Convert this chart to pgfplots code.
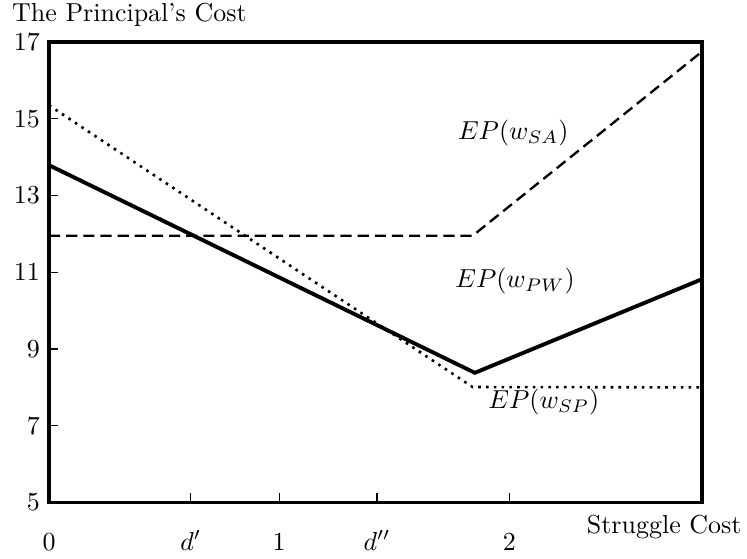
\documentclass[border=0pt]{standalone}
\usepackage{pgfplots}
\pgfplotsset{compat=1.18}
\begin{document}
\begin{tikzpicture}
\path[use as bounding box] (-18.87pt,-21.37pt) rectangle (268.7pt,193.46pt);
\begin{axis}[
  at={(0,0)}, anchor=south west,
  scale only axis, width=251.4pt, height=177.3pt,
  xmin=0, xmax=2.837, ymin=5, ymax=17,
  xtick={0,0.616,1,1.425,2},
  xticklabels={$0$,$d'$,$1$,$d''$,$2$},
  ytick={5,7,9,11,13,15,17},
  tick pos=left,
  tick align=inside,
  major tick length=3.5pt,
  tick style={line width=0.5pt, black},
  axis line style={line width=1.5pt},
  xticklabel style={anchor=base, yshift=-18.3pt},
  clip=false,
]
\addplot[black, line width=0.9pt, dash pattern=on 4.3pt off 2.3pt] coordinates {(0,11.95) (1.84,11.95) (2.837,16.75)};
\addplot[black, line width=1.5pt] coordinates {(0,13.79) (1.85,8.38) (2.837,10.82)};
\addplot[black, line width=1pt, dash pattern=on 1pt off 2pt] coordinates {(0,15.35) (1.84,8.01) (2.837,8.0)};
\node at (axis cs:2.017,14.62) {$EP(w_{SA})$};
\node at (axis cs:2.025,10.78) {$EP(w_{PW})$};
\node at (axis cs:2.15,7.61) {$EP(w_{SP})$};
\node[anchor=base west, inner sep=0pt, xshift=-14.4pt, yshift=8pt] at (rel axis cs:0,1) {The Principal's Cost};
\node[anchor=base east, inner sep=0pt, xshift=15.4pt, yshift=-12.1pt] at (rel axis cs:1,0) {Struggle Cost};
\end{axis}
\end{tikzpicture}
\end{document}
